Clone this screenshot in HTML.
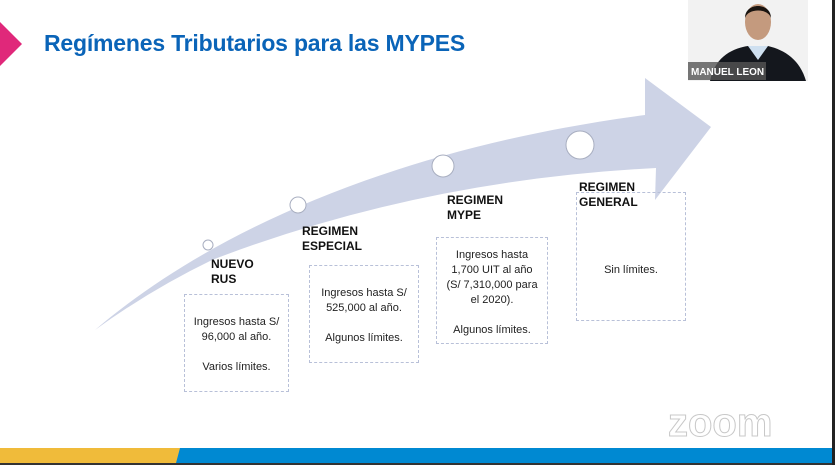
<!DOCTYPE html>
<html><head><style>
body{margin:0;width:835px;height:465px;overflow:hidden;background:#fff;position:relative;font-family:"Liberation Sans",sans-serif}
.t{position:absolute;left:44px;top:30px;font-size:23px;font-weight:bold;color:#0a64b8;letter-spacing:-0.2px}
.lab{position:absolute;font-size:12px;font-weight:bold;line-height:15px;color:#111}
.box{position:absolute;border:1px dashed #b8c0d8;font-size:11px;text-align:center;line-height:15px;color:#222;box-sizing:border-box;padding-top:20px}
</style></head><body>
<svg width="835" height="465" style="position:absolute;left:0;top:0">
<polygon points="0,22 22,44 0,66" fill="#e0287a"/>
<path d="M95,330 C200,240 380,150 645,115 L645,78 L711,127 L655,200 L656,168 Q420,180 212,260 Q150,290 95,330 Z" fill="#cdd3e6"/>
<g fill="#fff" stroke="#a8aec0" stroke-width="1">
<circle cx="208" cy="245" r="5"/><circle cx="298" cy="205" r="8"/><circle cx="443" cy="166" r="11"/><circle cx="580" cy="145" r="14"/>
</g>
<rect x="0" y="448" width="180" height="15" fill="#f0bb3a"/>
<polygon points="180,448 835,448 835,463 176,463" fill="#0089d2"/>
<rect x="0" y="463" width="835" height="2" fill="#333"/>
<rect x="832" y="0" width="3" height="465" fill="#222"/>
<text x="668" y="436" font-size="40" font-family="Liberation Sans" font-weight="bold" fill="#fff" stroke="#c8c8c8" stroke-width="1">zoom</text>
<rect x="688" y="0" width="120" height="81" fill="#f2f2f2"/>
<path d="M710,81 C715,55 735,48 748,46 L768,46 C785,50 800,60 806,81 Z" fill="#14171d"/>
<polygon points="748,46 758,60 768,46" fill="#cfe0f0"/>
<ellipse cx="758" cy="22" rx="13" ry="18" fill="#c49a7e"/>
<path d="M745,18 C745,2 771,2 771,18 C768,8 748,8 745,18Z" fill="#1a1410"/>
<rect x="688" y="62" width="78" height="18" fill="#555" opacity="0.8"/>
<text x="691" y="75" font-size="10" font-weight="bold" fill="#fff" font-family="Liberation Sans">MANUEL LEON</text>
</svg>
<div class="t">Regímenes Tributarios para las MYPES</div>
<div class="lab" style="left:211px;top:257px">NUEVO<br>RUS</div>
<div class="lab" style="left:302px;top:224px">REGIMEN<br>ESPECIAL</div>
<div class="lab" style="left:447px;top:193px">REGIMEN<br>MYPE</div>
<div class="lab" style="left:579px;top:180px">REGIMEN<br>GENERAL</div>
<div class="box" style="left:184px;top:294px;width:105px;height:98px">Ingresos hasta S/<br>96,000 al año.<br><br>Varios límites.</div>
<div class="box" style="left:309px;top:265px;width:110px;height:98px">Ingresos hasta S/<br>525,000 al año.<br><br>Algunos límites.</div>
<div class="box" style="left:436px;top:237px;width:112px;height:107px;padding-top:10px">Ingresos hasta<br>1,700 UIT al año<br>(S/ 7,310,000 para<br>el 2020).<br><br>Algunos límites.</div>
<div class="box" style="left:576px;top:192px;width:110px;height:129px;padding-top:70px">Sin límites.</div>
</body></html>
